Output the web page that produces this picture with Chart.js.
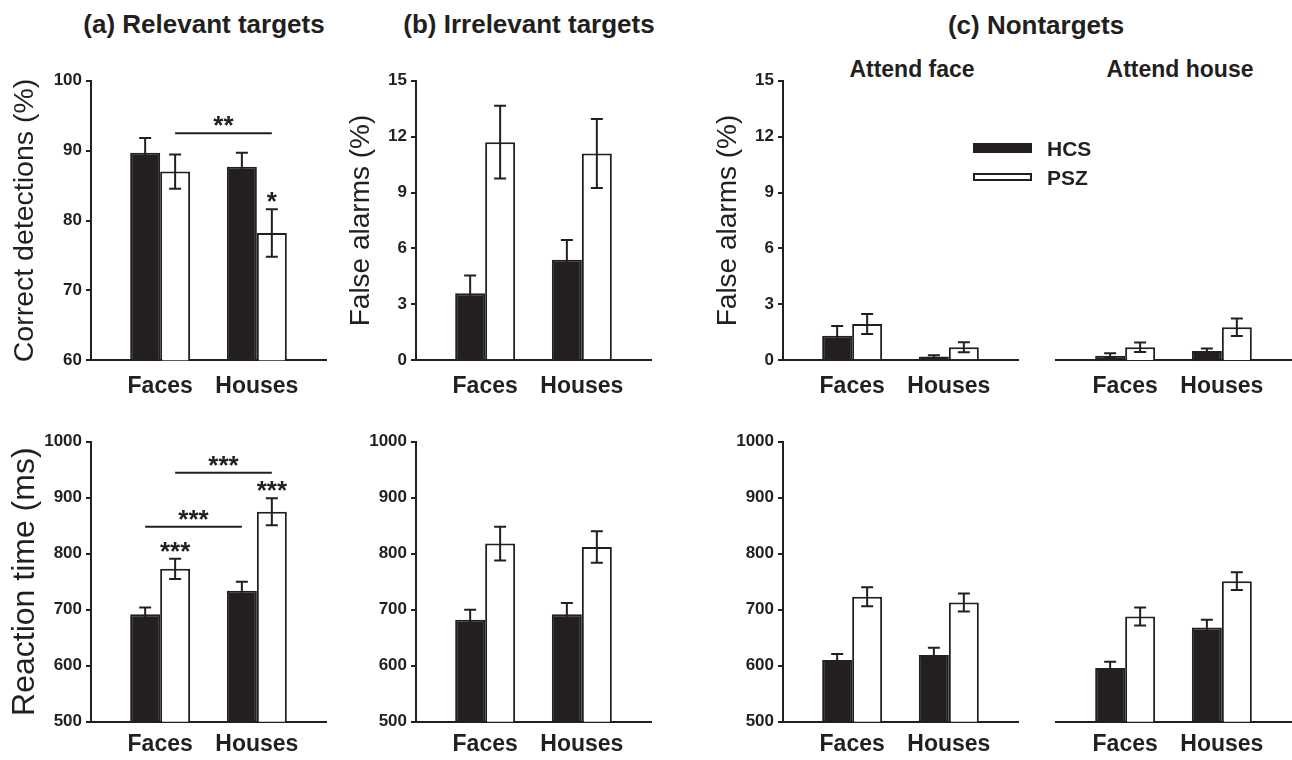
<!DOCTYPE html>
<html>
<head>
<meta charset="utf-8">
<script src="https://cdn.jsdelivr.net/npm/chart.js@4.4.1/dist/chart.umd.min.js"></script>
<style>
    html, body { margin: 0; padding: 0; background: #fff; overflow: hidden; }
    body { width: 1292px; height: 760px; position: relative; font-family: "Liberation Sans", Arial, sans-serif; color: #231f20; }
    canvas { position: absolute; }
    .hd { position: absolute; font-weight: bold; white-space: nowrap; line-height: 1; transform: translate(-50%, -50%); }
    .sw { position: absolute; left: 973px; width: 59px; box-sizing: border-box; }
    .lg { position: absolute; left: 1047px; font-weight: bold; font-size: 21px; line-height: 22px; }
</style>
</head>
<body>
<div class="hd" style="left:204px; top:24px; font-size:26px">(a) Relevant targets</div>
<div class="hd" style="left:529px; top:24px; font-size:26px">(b) Irrelevant targets</div>
<div class="hd" style="left:1036px; top:25px; font-size:26px">(c) Nontargets</div>
<div class="hd" style="left:912px; top:69px; font-size:23px">Attend face</div>
<div class="hd" style="left:1180px; top:69px; font-size:23px">Attend house</div>

<canvas id="relDet"></canvas>
<canvas id="irrFa"></canvas>
<canvas id="afFa"></canvas>
<canvas id="ahFa"></canvas>
<canvas id="relRt"></canvas>
<canvas id="irrRt"></canvas>
<canvas id="afRt"></canvas>
<canvas id="ahRt"></canvas>

<!-- legenda -->
<div class="sw" style="top:143px; height:10px; background:#231f20"></div>
<div class="sw" style="top:173px; height:8px; border:2px solid #231f20; background:#fff"></div>
<div class="lg" style="top:138px">HCS</div>
<div class="lg" style="top:167px">PSZ</div>

<script>
// Cor principal (tinta)
const INK = '#231f20';
Chart.defaults.font.family = '"Liberation Sans", Arial, sans-serif';
Chart.defaults.color = INK;

// Categorias e grupos
const categories = ['Faces', 'Houses'];
const groups = ['HCS', 'PSZ'];

// (a) Relevant targets
const relDetHCS = [89.7, 87.7];
const relDetHCSErr = [2.1, 2.0];
const relDetPSZ = [87.0, 78.2];
const relDetPSZErr = [2.45, 3.4];
const relRtHCS = [692, 734];
const relRtHCSErr = [12, 16];
const relRtPSZ = [773, 875];
const relRtPSZErr = [18, 24];

// (b) Irrelevant targets
const irrFaHCS = [3.6, 5.4];
const irrFaHCSErr = [0.95, 1.05];
const irrFaPSZ = [11.7, 11.1];
const irrFaPSZErr = [1.95, 1.85];
const irrRtHCS = [682, 692];
const irrRtHCSErr = [18, 20];
const irrRtPSZ = [818, 812];
const irrRtPSZErr = [30, 28];

// (c) Nontargets - attend face
const afFaHCS = [1.32, 0.2];
const afFaHCSErr = [0.52, 0.07];
const afFaPSZ = [1.95, 0.7];
const afFaPSZErr = [0.54, 0.27];
const afRtHCS = [610, 619];
const afRtHCSErr = [11, 13];
const afRtPSZ = [723, 713];
const afRtPSZErr = [17, 16];

// (c) Nontargets - attend house
const ahFaHCS = [0.25, 0.5];
const ahFaHCSErr = [0.13, 0.13];
const ahFaPSZ = [0.7, 1.77];
const ahFaPSZErr = [0.25, 0.47];
const ahRtHCS = [596, 668];
const ahRtHCSErr = [11, 14];
const ahRtPSZ = [688, 751];
const ahRtPSZErr = [16, 16];

// Ticks dos eixos y
const pctTicks = [60, 70, 80, 90, 100];
const faTicks = [0, 3, 6, 9, 12, 15];
const rtTicks = [500, 600, 700, 800, 900, 1000];

// Significância: [dataset, categoria]
const relDetLines = [{ from: [1, 0], to: [1, 1], y: 92.5, label: '**' }];
const relDetStars = [{ at: [1, 1], label: '*' }];
const relRtLines = [
    { from: [0, 0], to: [0, 1], y: 848, label: '***' },
    { from: [1, 0], to: [1, 1], y: 944.6, label: '***' }
];
const relRtStars = [{ at: [1, 0], label: '***' }, { at: [1, 1], label: '***' }];

// Barras de erro
const errorBars = {
    id: 'errorBars',
    afterDatasetsDraw(chart) {
        const ctx = chart.ctx;
        const y = chart.scales.y;
        ctx.save();
        ctx.strokeStyle = INK;
        ctx.lineWidth = 2;
        chart.data.datasets.forEach((ds, i) => {
            chart.getDatasetMeta(i).data.forEach((bar, j) => {
                const v = ds.data[j].y, e = ds.err[j];
                const top = y.getPixelForValue(v + e);
                const bot = y.getPixelForValue(v - e);
                ctx.beginPath();
                ctx.moveTo(bar.x, top); ctx.lineTo(bar.x, bot);
                ctx.moveTo(bar.x - 6, top); ctx.lineTo(bar.x + 6, top);
                ctx.moveTo(bar.x - 6, bot); ctx.lineTo(bar.x + 6, bot);
                ctx.stroke();
            });
        });
        ctx.restore();
    }
};

// Linhas e asteriscos de significância
function sigPlugin(lines, stars) {
    return {
        id: 'sig',
        afterDatasetsDraw(chart) {
            const ctx = chart.ctx;
            const y = chart.scales.y;
            const barX = at => chart.getDatasetMeta(at[0]).data[at[1]].x;
            ctx.save();
            ctx.strokeStyle = INK;
            ctx.fillStyle = INK;
            ctx.lineWidth = 2;
            ctx.font = 'bold 26px "Liberation Sans", Arial, sans-serif';
            ctx.textAlign = 'center';
            ctx.textBaseline = 'alphabetic';
            lines.forEach(l => {
                const x0 = barX(l.from), x1 = barX(l.to);
                const py = y.getPixelForValue(l.y);
                ctx.beginPath();
                ctx.moveTo(x0, py); ctx.lineTo(x1, py);
                ctx.stroke();
                ctx.fillText(l.label, (x0 + x1) / 2, py + 1);
            });
            stars.forEach(s => {
                const ds = chart.data.datasets[s.at[0]];
                const k = s.at[1];
                const top = y.getPixelForValue(ds.data[k].y + ds.err[k]);
                ctx.fillText(s.label, barX(s.at), top + 1);
            });
            ctx.restore();
        }
    };
}

// Linhas do layout
const rows = {
    top: { canvasTop: 60, padTop: 20.7, xH: 39.7, labelPad: 13 },
    bottom: { canvasTop: 420, padTop: 21.7, xH: 38.3, labelPad: 9 }
};

function makePanel(id, p) {
    const row = rows[p.row];
    const canvas = document.getElementById(id);
    canvas.width = 333;
    canvas.height = 340;
    canvas.style.left = (p.axisX - 90) + 'px';
    canvas.style.top = row.canvasTop + 'px';
    const toPoints = arr => arr.map((v, i) => ({ x: i, y: v }));
    const showY = p.showY !== false;

    new Chart(canvas, {
        type: 'bar',
        data: {
            datasets: [
                { label: groups[0], data: toPoints(p.hcs), err: p.hcsErr, backgroundColor: INK, borderColor: INK,
                  borderWidth: 2, categoryPercentage: 0.62, barPercentage: 1.0 },
                { label: groups[1], data: toPoints(p.psz), err: p.pszErr, backgroundColor: '#ffffff', borderColor: INK,
                  borderWidth: 2, categoryPercentage: 0.62, barPercentage: 1.0 }
            ]
        },
        options: {
            responsive: false,
            animation: false,
            layout: { padding: { top: row.padTop, right: 8, bottom: 0, left: 0 } },
            plugins: { legend: { display: false }, tooltip: { enabled: false } },
            scales: {
                x: {
                    type: 'linear',
                    offset: false,
                    bounds: 'data',
                    min: -0.715,
                    max: 1.715,
                    afterBuildTicks: s => { s.ticks = categories.map((c, i) => ({ value: i })); },
                    afterFit: s => { s.height = row.xH; },
                    border: { display: true, color: INK, width: 2 },
                    grid: { display: false, drawTicks: false, offset: false },
                    ticks: {
                        autoSkip: false,
                        maxRotation: 0,
                        padding: row.labelPad,
                        color: INK,
                        font: { size: 23, weight: 'bold' },
                        callback: v => categories[v]
                    }
                },
                y: {
                    min: p.ticks[0],
                    max: p.ticks[p.ticks.length - 1],
                    afterBuildTicks: s => { s.ticks = p.ticks.map(v => ({ value: v })); },
                    afterFit: s => { s.width = 90; },
                    border: { display: showY, color: INK, width: 2 },
                    grid: { display: showY, drawOnChartArea: false, drawTicks: true, tickLength: 5, color: INK, lineWidth: 2 },
                    ticks: { display: showY, padding: 4, color: INK, font: { size: 17, weight: 'bold' }, callback: v => String(v) },
                    title: {
                        display: !!p.yTitle,
                        text: p.yTitle || '',
                        color: INK,
                        font: { size: p.yTitleSize || 28 },
                        padding: { top: p.titlePad || 0, bottom: 0 }
                    }
                }
            }
        },
        plugins: [errorBars, sigPlugin(p.lines || [], p.stars || [])]
    });
}

// Linha de cima
makePanel('relDet', { row: 'top', axisX: 91, ticks: pctTicks, hcs: relDetHCS, hcsErr: relDetHCSErr, psz: relDetPSZ, pszErr: relDetPSZErr,
    yTitle: 'Correct detections (%)', yTitleSize: 28.5, titlePad: 7, lines: relDetLines, stars: relDetStars });
makePanel('irrFa', { row: 'top', axisX: 416, ticks: faTicks, hcs: irrFaHCS, hcsErr: irrFaHCSErr, psz: irrFaPSZ, pszErr: irrFaPSZErr,
    yTitle: 'False alarms (%)', titlePad: 18 });
makePanel('afFa', { row: 'top', axisX: 783, ticks: faTicks, hcs: afFaHCS, hcsErr: afFaHCSErr, psz: afFaPSZ, pszErr: afFaPSZErr,
    yTitle: 'False alarms (%)', titlePad: 18 });
makePanel('ahFa', { row: 'top', axisX: 1056, ticks: faTicks, hcs: ahFaHCS, hcsErr: ahFaHCSErr, psz: ahFaPSZ, pszErr: ahFaPSZErr,
    showY: false });

// Linha de baixo
makePanel('relRt', { row: 'bottom', axisX: 91, ticks: rtTicks, hcs: relRtHCS, hcsErr: relRtHCSErr, psz: relRtPSZ, pszErr: relRtPSZErr,
    yTitle: 'Reaction time (ms)', yTitleSize: 32, titlePad: 5, lines: relRtLines, stars: relRtStars });
makePanel('irrRt', { row: 'bottom', axisX: 416, ticks: rtTicks, hcs: irrRtHCS, hcsErr: irrRtHCSErr, psz: irrRtPSZ, pszErr: irrRtPSZErr });
makePanel('afRt', { row: 'bottom', axisX: 783, ticks: rtTicks, hcs: afRtHCS, hcsErr: afRtHCSErr, psz: afRtPSZ, pszErr: afRtPSZErr });
makePanel('ahRt', { row: 'bottom', axisX: 1056, ticks: rtTicks, hcs: ahRtHCS, hcsErr: ahRtHCSErr, psz: ahRtPSZ, pszErr: ahRtPSZErr,
    showY: false });
</script>
</body>
</html>
